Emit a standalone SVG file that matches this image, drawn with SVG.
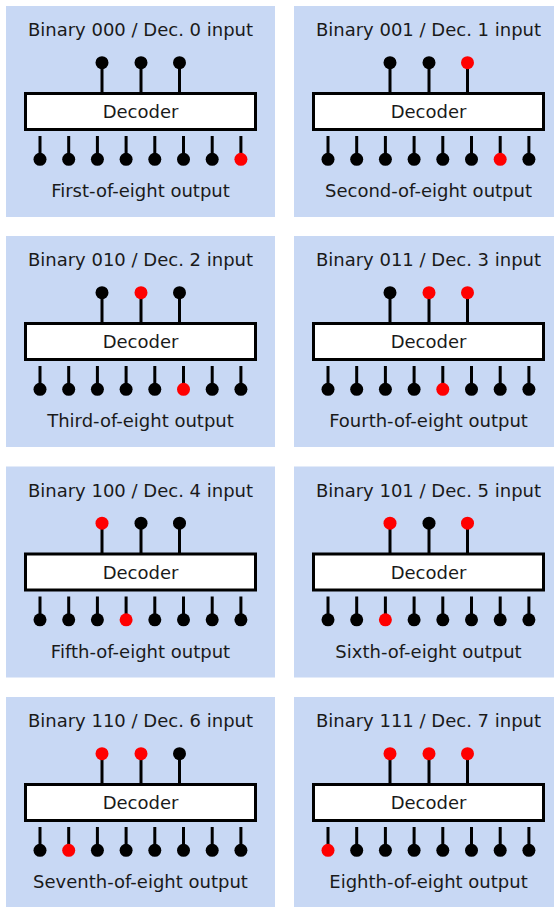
<svg xmlns="http://www.w3.org/2000/svg" width="554" height="907" viewBox="0 0 554 907">
<style>
.bg{fill:#c8d8f4}
.box{fill:#fff;stroke:#000;stroke-width:3}
.t{font-family:"DejaVu Sans",Verdana,sans-serif;font-size:18px;fill:#1a1a1a;text-anchor:middle}
.w{fill:none;stroke:#000;stroke-width:3}
.off{fill:#000}
.on{fill:#f00}
</style>
<defs>
<path id="wires" class="w" d="M96 56.7V87M135 56.7V87M173.5 56.7V87M34 130V153M62.7 130V153M91.4 130V153M120.1 130V153M148.8 130V153M177.5 130V153M206.2 130V153M234.9 130V153"/>
</defs>
<g id="backgrounds">
<rect class="bg" x="6" y="6" width="269" height="211"/>
<rect class="bg" x="294" y="6" width="269" height="211"/>
<rect class="bg" x="6" y="236" width="269" height="211"/>
<rect class="bg" x="294" y="236" width="269" height="211"/>
<rect class="bg" x="6" y="466.5" width="269" height="211"/>
<rect class="bg" x="294" y="466.5" width="269" height="211"/>
<rect class="bg" x="6" y="697" width="269" height="211"/>
<rect class="bg" x="294" y="697" width="269" height="211"/>
</g>
<g id="connectors">
<use href="#wires" transform="translate(6,6)"/>
<use href="#wires" transform="translate(294,6)"/>
<use href="#wires" transform="translate(6,236)"/>
<use href="#wires" transform="translate(294,236)"/>
<use href="#wires" transform="translate(6,466.5)"/>
<use href="#wires" transform="translate(294,466.5)"/>
<use href="#wires" transform="translate(6,697)"/>
<use href="#wires" transform="translate(294,697)"/>
</g>
<g id="panel-0" transform="translate(6,6)">
<text class="t" x="134.5" y="30">Binary 000 / Dec. 0 input</text>
<g id="decoder-0"><rect class="box" x="19.5" y="87.5" width="230" height="36"/><text class="t" x="134.5" y="112">Decoder</text></g>
<g id="inputs-0"><circle class="off" cx="96" cy="56.7" r="6.5"/><circle class="off" cx="135" cy="56.7" r="6.5"/><circle class="off" cx="173.5" cy="56.7" r="6.5"/></g>
<g id="outputs-0"><circle class="off" cx="34" cy="153.3" r="6.5"/><circle class="off" cx="62.7" cy="153.3" r="6.5"/><circle class="off" cx="91.4" cy="153.3" r="6.5"/><circle class="off" cx="120.1" cy="153.3" r="6.5"/><circle class="off" cx="148.8" cy="153.3" r="6.5"/><circle class="off" cx="177.5" cy="153.3" r="6.5"/><circle class="off" cx="206.2" cy="153.3" r="6.5"/><circle class="on" cx="234.9" cy="153.3" r="6.5"/></g>
<text class="t" x="134.5" y="191">First-of-eight output</text>
</g>
<g id="panel-1" transform="translate(294,6)">
<text class="t" x="134.5" y="30">Binary 001 / Dec. 1 input</text>
<g id="decoder-1"><rect class="box" x="19.5" y="87.5" width="230" height="36"/><text class="t" x="134.5" y="112">Decoder</text></g>
<g id="inputs-1"><circle class="off" cx="96" cy="56.7" r="6.5"/><circle class="off" cx="135" cy="56.7" r="6.5"/><circle class="on" cx="173.5" cy="56.7" r="6.5"/></g>
<g id="outputs-1"><circle class="off" cx="34" cy="153.3" r="6.5"/><circle class="off" cx="62.7" cy="153.3" r="6.5"/><circle class="off" cx="91.4" cy="153.3" r="6.5"/><circle class="off" cx="120.1" cy="153.3" r="6.5"/><circle class="off" cx="148.8" cy="153.3" r="6.5"/><circle class="off" cx="177.5" cy="153.3" r="6.5"/><circle class="on" cx="206.2" cy="153.3" r="6.5"/><circle class="off" cx="234.9" cy="153.3" r="6.5"/></g>
<text class="t" x="134.5" y="191">Second-of-eight output</text>
</g>
<g id="panel-2" transform="translate(6,236)">
<text class="t" x="134.5" y="30">Binary 010 / Dec. 2 input</text>
<g id="decoder-2"><rect class="box" x="19.5" y="87.5" width="230" height="36"/><text class="t" x="134.5" y="112">Decoder</text></g>
<g id="inputs-2"><circle class="off" cx="96" cy="56.7" r="6.5"/><circle class="on" cx="135" cy="56.7" r="6.5"/><circle class="off" cx="173.5" cy="56.7" r="6.5"/></g>
<g id="outputs-2"><circle class="off" cx="34" cy="153.3" r="6.5"/><circle class="off" cx="62.7" cy="153.3" r="6.5"/><circle class="off" cx="91.4" cy="153.3" r="6.5"/><circle class="off" cx="120.1" cy="153.3" r="6.5"/><circle class="off" cx="148.8" cy="153.3" r="6.5"/><circle class="on" cx="177.5" cy="153.3" r="6.5"/><circle class="off" cx="206.2" cy="153.3" r="6.5"/><circle class="off" cx="234.9" cy="153.3" r="6.5"/></g>
<text class="t" x="134.5" y="191">Third-of-eight output</text>
</g>
<g id="panel-3" transform="translate(294,236)">
<text class="t" x="134.5" y="30">Binary 011 / Dec. 3 input</text>
<g id="decoder-3"><rect class="box" x="19.5" y="87.5" width="230" height="36"/><text class="t" x="134.5" y="112">Decoder</text></g>
<g id="inputs-3"><circle class="off" cx="96" cy="56.7" r="6.5"/><circle class="on" cx="135" cy="56.7" r="6.5"/><circle class="on" cx="173.5" cy="56.7" r="6.5"/></g>
<g id="outputs-3"><circle class="off" cx="34" cy="153.3" r="6.5"/><circle class="off" cx="62.7" cy="153.3" r="6.5"/><circle class="off" cx="91.4" cy="153.3" r="6.5"/><circle class="off" cx="120.1" cy="153.3" r="6.5"/><circle class="on" cx="148.8" cy="153.3" r="6.5"/><circle class="off" cx="177.5" cy="153.3" r="6.5"/><circle class="off" cx="206.2" cy="153.3" r="6.5"/><circle class="off" cx="234.9" cy="153.3" r="6.5"/></g>
<text class="t" x="134.5" y="191">Fourth-of-eight output</text>
</g>
<g id="panel-4" transform="translate(6,466.5)">
<text class="t" x="134.5" y="30">Binary 100 / Dec. 4 input</text>
<g id="decoder-4"><rect class="box" x="19.5" y="87.5" width="230" height="36"/><text class="t" x="134.5" y="112">Decoder</text></g>
<g id="inputs-4"><circle class="on" cx="96" cy="56.7" r="6.5"/><circle class="off" cx="135" cy="56.7" r="6.5"/><circle class="off" cx="173.5" cy="56.7" r="6.5"/></g>
<g id="outputs-4"><circle class="off" cx="34" cy="153.3" r="6.5"/><circle class="off" cx="62.7" cy="153.3" r="6.5"/><circle class="off" cx="91.4" cy="153.3" r="6.5"/><circle class="on" cx="120.1" cy="153.3" r="6.5"/><circle class="off" cx="148.8" cy="153.3" r="6.5"/><circle class="off" cx="177.5" cy="153.3" r="6.5"/><circle class="off" cx="206.2" cy="153.3" r="6.5"/><circle class="off" cx="234.9" cy="153.3" r="6.5"/></g>
<text class="t" x="134.5" y="191">Fifth-of-eight output</text>
</g>
<g id="panel-5" transform="translate(294,466.5)">
<text class="t" x="134.5" y="30">Binary 101 / Dec. 5 input</text>
<g id="decoder-5"><rect class="box" x="19.5" y="87.5" width="230" height="36"/><text class="t" x="134.5" y="112">Decoder</text></g>
<g id="inputs-5"><circle class="on" cx="96" cy="56.7" r="6.5"/><circle class="off" cx="135" cy="56.7" r="6.5"/><circle class="on" cx="173.5" cy="56.7" r="6.5"/></g>
<g id="outputs-5"><circle class="off" cx="34" cy="153.3" r="6.5"/><circle class="off" cx="62.7" cy="153.3" r="6.5"/><circle class="on" cx="91.4" cy="153.3" r="6.5"/><circle class="off" cx="120.1" cy="153.3" r="6.5"/><circle class="off" cx="148.8" cy="153.3" r="6.5"/><circle class="off" cx="177.5" cy="153.3" r="6.5"/><circle class="off" cx="206.2" cy="153.3" r="6.5"/><circle class="off" cx="234.9" cy="153.3" r="6.5"/></g>
<text class="t" x="134.5" y="191">Sixth-of-eight output</text>
</g>
<g id="panel-6" transform="translate(6,697)">
<text class="t" x="134.5" y="30">Binary 110 / Dec. 6 input</text>
<g id="decoder-6"><rect class="box" x="19.5" y="87.5" width="230" height="36"/><text class="t" x="134.5" y="112">Decoder</text></g>
<g id="inputs-6"><circle class="on" cx="96" cy="56.7" r="6.5"/><circle class="on" cx="135" cy="56.7" r="6.5"/><circle class="off" cx="173.5" cy="56.7" r="6.5"/></g>
<g id="outputs-6"><circle class="off" cx="34" cy="153.3" r="6.5"/><circle class="on" cx="62.7" cy="153.3" r="6.5"/><circle class="off" cx="91.4" cy="153.3" r="6.5"/><circle class="off" cx="120.1" cy="153.3" r="6.5"/><circle class="off" cx="148.8" cy="153.3" r="6.5"/><circle class="off" cx="177.5" cy="153.3" r="6.5"/><circle class="off" cx="206.2" cy="153.3" r="6.5"/><circle class="off" cx="234.9" cy="153.3" r="6.5"/></g>
<text class="t" x="134.5" y="191">Seventh-of-eight output</text>
</g>
<g id="panel-7" transform="translate(294,697)">
<text class="t" x="134.5" y="30">Binary 111 / Dec. 7 input</text>
<g id="decoder-7"><rect class="box" x="19.5" y="87.5" width="230" height="36"/><text class="t" x="134.5" y="112">Decoder</text></g>
<g id="inputs-7"><circle class="on" cx="96" cy="56.7" r="6.5"/><circle class="on" cx="135" cy="56.7" r="6.5"/><circle class="on" cx="173.5" cy="56.7" r="6.5"/></g>
<g id="outputs-7"><circle class="on" cx="34" cy="153.3" r="6.5"/><circle class="off" cx="62.7" cy="153.3" r="6.5"/><circle class="off" cx="91.4" cy="153.3" r="6.5"/><circle class="off" cx="120.1" cy="153.3" r="6.5"/><circle class="off" cx="148.8" cy="153.3" r="6.5"/><circle class="off" cx="177.5" cy="153.3" r="6.5"/><circle class="off" cx="206.2" cy="153.3" r="6.5"/><circle class="off" cx="234.9" cy="153.3" r="6.5"/></g>
<text class="t" x="134.5" y="191">Eighth-of-eight output</text>
</g>
</svg>
